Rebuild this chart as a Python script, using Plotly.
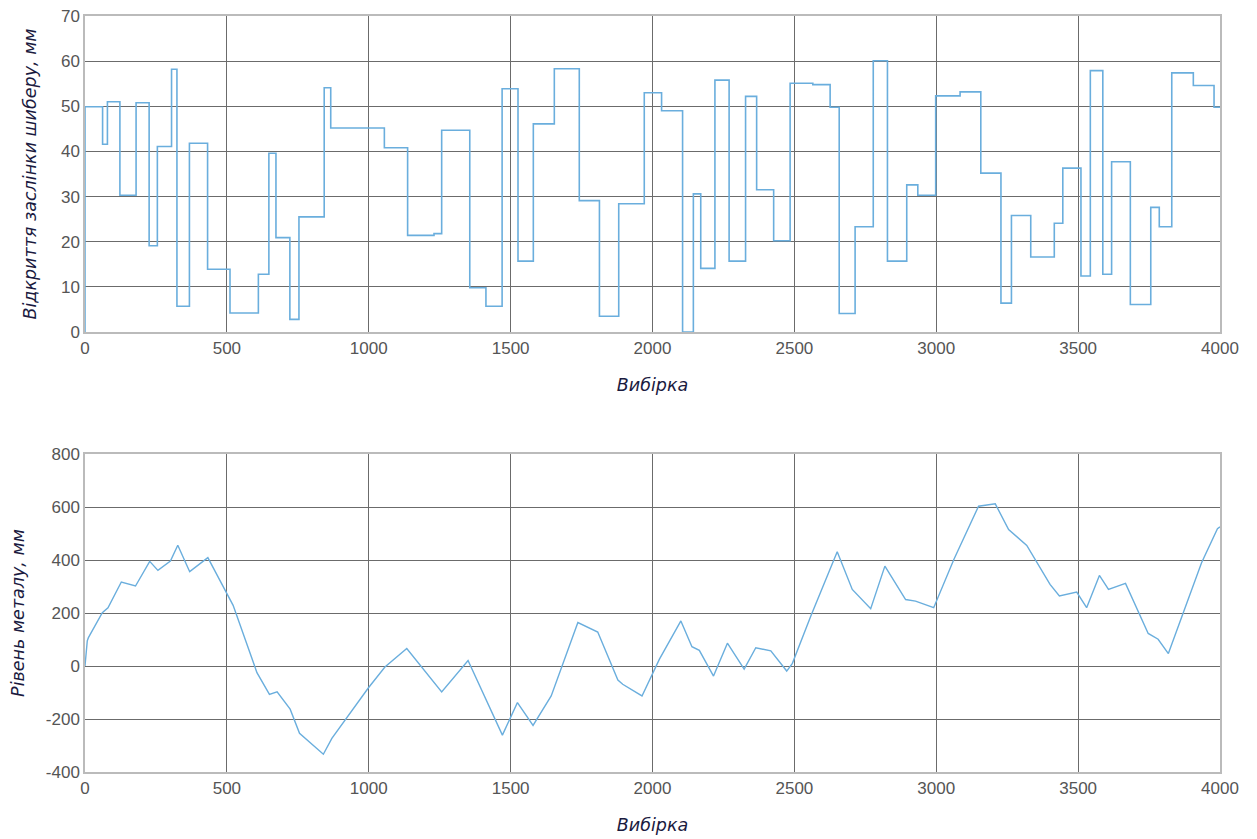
import plotly.graph_objects as go

# Top chart: gate opening (step signal) - step start samples and levels
step_x = [0, 0, 62, 79, 123, 180, 226, 255, 305, 324, 368, 432, 511, 611, 648, 673, 722, 754,
          843, 866, 1055, 1137, 1230, 1257, 1356, 1413, 1470, 1526, 1580, 1654, 1742, 1813, 1881,
          1971, 2032, 2106, 2144, 2170, 2220, 2270, 2328, 2367, 2427, 2485, 2565, 2626, 2658,
          2714, 2778, 2828, 2896, 2935, 2998, 3084, 3157, 3228, 3265, 3333, 3416, 3446, 3510,
          3543, 3587, 3618, 3684, 3756, 3786, 3830, 3906, 3979, 4000]
step_y = [0, 49.9, 41.6, 51.0, 30.3, 50.8, 19.1, 41.1, 58.2, 5.7, 41.8, 13.9, 4.2, 12.8, 39.6, 20.9, 2.8,
          25.5, 54.1, 45.2, 40.8, 21.4, 21.8, 44.7, 9.8, 5.7, 53.9, 15.7, 46.1, 58.3, 29.1, 3.5, 28.4,
          53.0, 49.0, 0.0, 30.6, 14.1, 55.8, 15.7, 52.2, 31.5, 20.2, 55.1, 54.8, 49.8, 4.1,
          23.3, 60.1, 15.7, 32.6, 30.3, 52.3, 53.2, 35.2, 6.4, 25.8, 16.6, 24.1, 36.3, 12.4,
          57.9, 12.8, 37.7, 6.1, 27.6, 23.3, 57.4, 54.6, 49.8, 49.8]

# Bottom chart: metal level
lvl_x = [0, 8, 12, 61, 81, 128, 178, 228, 257, 301, 327, 369, 433, 501, 522, 606, 650, 677, 723,
         756, 840, 870, 999, 1057, 1134, 1257, 1350, 1471, 1524, 1579, 1643, 1737, 1807, 1878,
         1895, 1963, 2024, 2100, 2139, 2165, 2215, 2264, 2323, 2364, 2417, 2473, 2493, 2558,
         2651, 2704, 2769, 2819, 2892, 2927, 2991, 3062, 3149, 3208, 3255, 3319, 3401, 3434,
         3495, 3530, 3575, 3607, 3667, 3747, 3782, 3818, 3876, 3935, 3991, 4000]
lvl_y = [0, 95, 107, 201, 220, 317, 302, 395, 361, 396, 456, 356, 409, 274, 229, -25, -107, -97,
         -163, -254, -333, -273, -82, -4, 66, -98, 21, -261, -138, -224, -113, 164, 128, -53,
         -69, -113, 25, 170, 73, 59, -38, 86, -12, 69, 57, -19, 10, 189,
         431, 289, 216, 377, 251, 245, 220, 402, 603, 612, 515, 455, 308, 264,
         279, 220, 342, 289, 312, 123, 101, 47, 220, 390, 518, 525]

y2_ticks = [-400, -200, 0, 200, 400, 600, 800]
y2_labels = [str(v) for v in y2_ticks]

line_color = "#6aaedd"
tick_font = dict(family="Liberation Sans, Arial, sans-serif", size=17, color="#555555")
title_font = dict(family="DejaVu Sans, sans-serif", size=17.5, color="#1a1a40")

fig = go.Figure()
fig.add_trace(go.Scatter(x=step_x, y=step_y, mode="lines", line=dict(color=line_color, width=1.6, shape="hv"),
                         xaxis="x", yaxis="y", showlegend=False))
fig.add_trace(go.Scatter(x=lvl_x, y=lvl_y, mode="lines", line=dict(color=line_color, width=1.4),
                         xaxis="x2", yaxis="y2", showlegend=False))

axis_common = dict(showgrid=True, gridcolor="#6b6b6b", gridwidth=1, showline=True, linecolor="#bbbbbb",
                   linewidth=1.5, mirror=True, zeroline=False, ticks="", tickfont=tick_font,
                   automargin=False, ticklabeloverflow="allow")

fig.update_layout(
    width=1257, height=839,
    paper_bgcolor="white", plot_bgcolor="white",
    margin=dict(l=77, r=45, t=8, b=75),
    xaxis=dict(domain=[0, 1], range=[0, 4000], dtick=500, anchor="y",
               title=dict(text="<i>Вибірка</i>", font=title_font, standoff=22), **axis_common),
    yaxis=dict(domain=[0.582, 1], range=[0, 70], dtick=10, anchor="x",
               title=dict(text="<i>Відкриття заслінки шиберу, мм</i>", font=title_font, standoff=20), **axis_common),
    xaxis2=dict(domain=[0, 1], range=[0, 4000], dtick=500, anchor="y2",
                title=dict(text="<i>Вибірка</i>", font=title_font, standoff=22), **axis_common),
    yaxis2=dict(domain=[0, 0.4206], range=[-400, 800], tickvals=y2_ticks, ticktext=y2_labels, anchor="x2",
                title=dict(text="<i>Рівень металу, мм</i>", font=title_font, standoff=20), **axis_common),
)

fig.write_html("out.html")
